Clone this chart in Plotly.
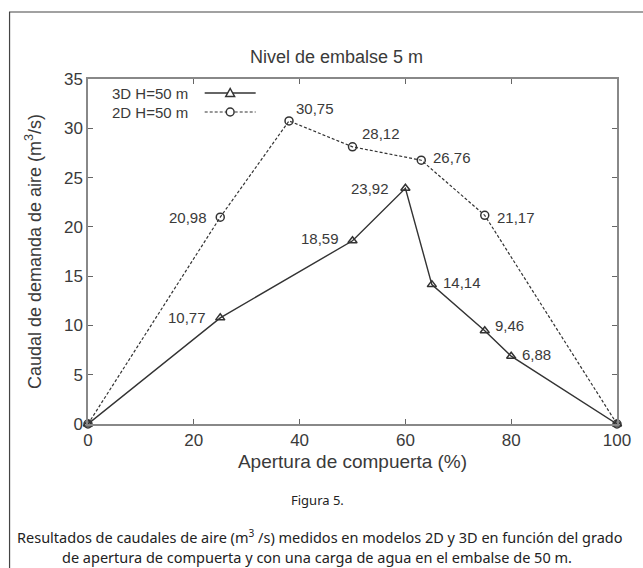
import plotly.graph_objects as go

# ---- data ----
x3d = [0, 25, 50, 60, 65, 75, 80, 100]
y3d = [0, 10.77, 18.59, 23.92, 14.14, 9.46, 6.88, 0]
x2d = [0, 25, 38, 50, 63, 75, 100]
y2d = [0, 20.98, 30.75, 28.12, 26.76, 21.17, 0]
name3d = "3D H=50 m"
name2d = "2D H=50 m"
xticks = [0, 20, 40, 60, 80, 100]
yticks = [0, 5, 10, 15, 20, 25, 30, 35]

W, H = 643, 568
L, R, T, B = 88, 15.5, 79, 144
PW, PH = W - L - R, H - T - B

def px(xp):
    return (xp - L) / PW

def py(yp):
    return (H - B - yp) / PH

def fmt(v):
    return f"{v:.2f}".replace(".", ",")

dark = "#333333"
txt = "#3a3a3a"
FONT = "Liberation Sans, Arial, sans-serif"

fig = go.Figure()
fig.add_trace(go.Scatter(x=x2d, y=y2d, mode="lines+markers", name=name2d,
                         line=dict(color=dark, width=1.2, dash="3px,2px"),
                         marker=dict(symbol="circle-open", size=8, color=dark, line=dict(width=1.5)),
                         cliponaxis=False, showlegend=False))
fig.add_trace(go.Scatter(x=x3d, y=y3d, mode="lines+markers", name=name3d,
                         line=dict(color=dark, width=1.4),
                         marker=dict(symbol="triangle-up-open", size=8, color=dark, line=dict(width=1.5)),
                         cliponaxis=False, showlegend=False))

# value labels: side, xshift, yshift
lab3d = {25: ("left", -12, 0), 50: ("left", -12, 2), 60: ("left", -14, 0), 65: ("right", 9, 2),
         75: ("right", 8, 5), 80: ("right", 9, 2)}
lab2d = {25: ("left", -11, 0), 38: ("right", 5, 12), 50: ("right", 7, 13), 63: ("right", 10, 3),
         75: ("right", 10, -2)}
for xs, ys, labs in ((x3d, y3d, lab3d), (x2d, y2d, lab2d)):
    for xv, yv in zip(xs, ys):
        if xv in labs:
            side, dx, dy = labs[xv]
            fig.add_annotation(x=xv, y=yv, text=fmt(yv), showarrow=False,
                               xanchor="right" if side == "left" else "left", yanchor="middle",
                               xshift=dx, yshift=dy,
                               font=dict(size=15, color=txt, family=FONT))

# custom legend (text left, sample right)
for i, (nm, sym, dash) in enumerate(((name3d, "tri", "solid"), (name2d, "circ", "3px,2px"))):
    yy = 93 + i * 19
    fig.add_annotation(xref="paper", yref="paper", x=px(192), y=py(yy), text=nm,
                       showarrow=False, xanchor="right", yanchor="middle",
                       font=dict(size=15, color=txt, family=FONT))
    fig.add_shape(type="line", xref="paper", yref="paper", x0=px(207), x1=px(259),
                  y0=py(yy), y1=py(yy), line=dict(color=dark, width=1.3 if dash == "solid" else 1.2, dash=dash))
    cx = 233
    if sym == "circ":
        fig.add_shape(type="circle", xref="paper", yref="paper", x0=px(cx - 4), x1=px(cx + 4),
                      y0=py(yy + 4), y1=py(yy - 4), line=dict(color=dark, width=1.5), fillcolor="white")
    else:
        path = f"M {px(cx-4.5)} {py(yy+3.5)} L {px(cx+4.5)} {py(yy+3.5)} L {px(cx)} {py(yy-4.5)} Z"
        fig.add_shape(type="path", xref="paper", yref="paper", path=path,
                      line=dict(color=dark, width=1.5), fillcolor="white")

# title
fig.add_annotation(xref="paper", yref="paper", x=px(341), y=py(57), text="Nivel de embalse 5 m",
                   showarrow=False, xanchor="center", yanchor="middle",
                   font=dict(size=18, color=txt, family=FONT))

# captions
CAP = "Noto Sans, Open Sans, sans-serif"
fig.add_annotation(xref="paper", yref="paper", x=px(322), y=py(500), text="Figura 5.",
                   showarrow=False, xanchor="center", yanchor="middle",
                   font=dict(size=13, color="#222", family=CAP))
fig.add_annotation(xref="paper", yref="paper", x=px(324), y=py(536),
                   text="Resultados de caudales de aire (m<sup>3</sup> /s) medidos en modelos 2D y 3D en función del grado",
                   showarrow=False, xanchor="center", yanchor="middle",
                   font=dict(size=14.5, color="#222", family=CAP))
fig.add_annotation(xref="paper", yref="paper", x=px(322), y=py(557),
                   text="de apertura de compuerta y con una carga de agua en el embalse de 50 m.",
                   showarrow=False, xanchor="center", yanchor="middle",
                   font=dict(size=14.5, color="#222", family=CAP))

# outer frame
fig.add_shape(type="rect", xref="paper", yref="paper", x0=px(8), x1=px(660), y0=py(12), y1=py(600),
              line=dict(color="#444", width=1.2), fillcolor="rgba(0,0,0,0)", layer="below")

axis_common = dict(showline=True, linecolor="#888", linewidth=1.5, mirror="ticks",
                   ticks="inside", ticklen=5, tickcolor="#666", tickwidth=1,
                   showgrid=False, zeroline=False,
                   tickfont=dict(size=17, color=txt, family=FONT))
fig.update_xaxes(range=[0, 100], tickvals=xticks, **axis_common,
                 title=dict(text="Apertura de compuerta (%)", standoff=6,
                            font=dict(size=19, color=txt, family=FONT)))
fig.update_yaxes(range=[0, 35], tickvals=yticks, **axis_common,
                 title=dict(text="Caudal de demanda de aire (m<sup>3</sup>/s)", standoff=18,
                            font=dict(size=18, color=txt, family=FONT)))

fig.update_layout(width=W, height=H, margin=dict(l=L, r=R, t=T, b=B),
                  paper_bgcolor="white", plot_bgcolor="white", showlegend=False)

fig.write_html("out.html")
